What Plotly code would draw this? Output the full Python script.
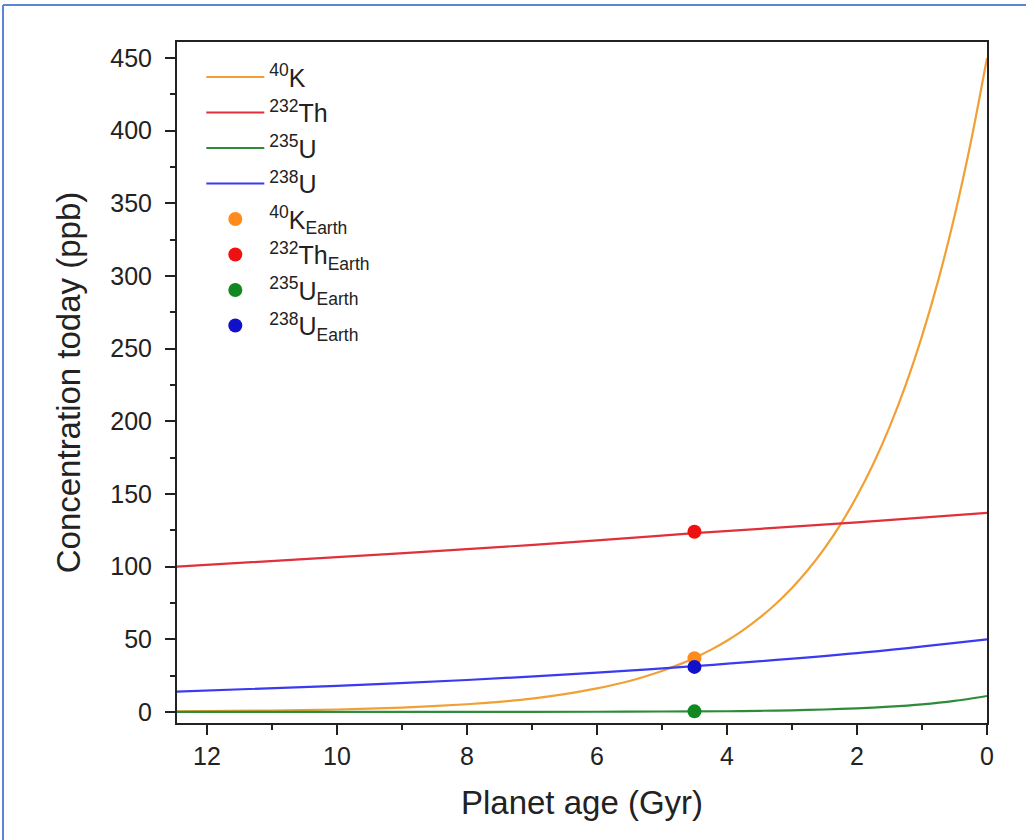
import plotly.graph_objects as go

# ---- data ----
age_k = [0, 0.25, 0.5, 0.75, 1, 1.25, 1.5, 1.75, 2, 2.25, 2.5, 2.75, 3, 3.25, 3.5, 3.75, 4, 4.25, 4.5,
         4.75, 5, 5.5, 6, 6.5, 7, 7.5, 8, 9, 10, 11, 12.46]
k40 = [450, 391.8, 341.1, 297.0, 258.6, 225.1, 196.0, 170.6, 148.6, 129.3, 112.6, 98.0, 85.3, 74.3,
       64.7, 56.3, 49.0, 42.7, 37.2, 32.4, 28.2, 21.3, 16.2, 12.3, 9.2, 7.0, 5.3, 3.0, 1.7, 1.0, 0.5]

age_th = [0, 2, 4.5, 6, 8, 10, 12.46]
th232 = [137, 130.5, 123, 118, 112, 106.5, 100]

age_u235 = [0, 0.5, 1, 1.5, 2, 2.5, 3, 3.5, 4, 5, 6, 8, 10, 12.46]
u235 = [11, 7.6, 5.2, 3.6, 2.5, 1.7, 1.1, 0.8, 0.5, 0.3, 0.15, 0.05, 0.02, 0.01]

age_u238 = [0, 2, 4.5, 6, 8, 10, 12.46]
u238 = [50, 40.5, 31.5, 27, 22, 18, 14]

earth_age = [4.5]
earth_k40 = [37]
earth_th232 = [124]
earth_u235 = [0.4]
earth_u238 = [31]

names = ["<sup>40</sup>K", "<sup>232</sup>Th", "<sup>235</sup>U", "<sup>238</sup>U"]
earth_names = ["<sup>40</sup>K<sub>Earth</sub>", "<sup>232</sup>Th<sub>Earth</sub>",
               "<sup>235</sup>U<sub>Earth</sub>", "<sup>238</sup>U<sub>Earth</sub>"]
x_ticks = [12, 10, 8, 6, 4, 2, 0]
y_ticks = [0, 50, 100, 150, 200, 250, 300, 350, 400, 450]

line_colors = ["#f0a035", "#e0303a", "#2e8b3a", "#3a3af0"]
dot_colors = ["#ff8c1a", "#ee1111", "#118822", "#1111cc"]

FONT = "Liberation Sans, Arial, sans-serif"
INK = "#222222"

fig = go.Figure()
for xs, ys, nm, c in [(age_k, k40, names[0], line_colors[0]),
                      (age_th, th232, names[1], line_colors[1]),
                      (age_u235, u235, names[2], line_colors[2]),
                      (age_u238, u238, names[3], line_colors[3])]:
    fig.add_trace(go.Scatter(x=xs, y=ys, mode="lines", name=nm,
                             line=dict(color=c, width=2.2, shape="spline", smoothing=0.8)))

for ys, nm, c in [(earth_k40, earth_names[0], dot_colors[0]),
                  (earth_th232, earth_names[1], dot_colors[1]),
                  (earth_u235, earth_names[2], dot_colors[2]),
                  (earth_u238, earth_names[3], dot_colors[3])]:
    fig.add_trace(go.Scatter(x=earth_age, y=ys, mode="markers", name=nm,
                             marker=dict(color=c, size=14)))

axis_common = dict(showline=True, linecolor=INK, linewidth=2, mirror=True,
                   showgrid=False, zeroline=False, ticks="outside", ticklen=10,
                   tickwidth=2, tickcolor=INK,
                   tickfont=dict(family=FONT, size=25, color=INK))

fig.update_xaxes(range=[12.46, 0], tickvals=x_ticks,
                 minor=dict(dtick=1, ticks="outside", ticklen=5, tickwidth=2, tickcolor=INK),
                 title=dict(text="Planet age (Gyr)", font=dict(family=FONT, size=33, color=INK),
                            standoff=22),
                 **axis_common)
fig.update_yaxes(range=[-7.6, 461], tickvals=y_ticks, ticklabelstandoff=8,
                 minor=dict(dtick=25, ticks="outside", ticklen=5, tickwidth=2, tickcolor=INK),
                 title=dict(text="Concentration today (ppb)", font=dict(family=FONT, size=33, color=INK),
                            standoff=20),
                 **axis_common)

fig.update_layout(
    width=1026, height=840,
    margin=dict(l=177, r=39, t=42, b=117),
    paper_bgcolor="white", plot_bgcolor="white",
    showlegend=True,
    legend=dict(x=0.03, y=0.982, xanchor="left", yanchor="top",
                bgcolor="rgba(0,0,0,0)", font=dict(family=FONT, size=25, color=INK),
                itemwidth=58, tracegroupgap=0),
    shapes=[
        dict(type="line", xref="paper", yref="paper", x0=-0.2148, x1=1.06, y0=1.0543, y1=1.0543,
             line=dict(color="#5b86d6", width=2)),
        dict(type="line", xref="paper", yref="paper", x0=-0.2148, x1=-0.2148, y0=1.0543, y1=-0.2,
             line=dict(color="#5b86d6", width=2)),
    ],
)

fig.write_html("out.html")
